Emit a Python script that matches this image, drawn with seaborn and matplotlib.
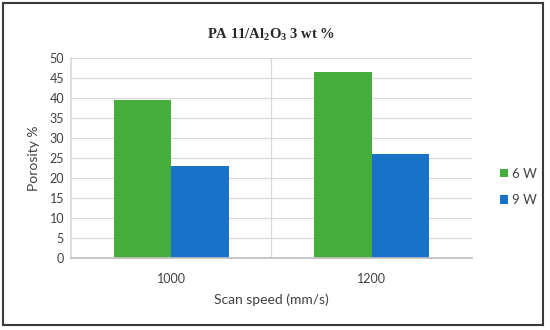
import pandas as pd
import matplotlib.pyplot as plt
import seaborn as sns
from matplotlib.patches import Rectangle
from matplotlib.ticker import FixedLocator, MultipleLocator

# data
speeds = ['1000', '1200']
power = ['6 W', '9 W']
porosity_6w = [39.5, 46.6]
porosity_9w = [23.1, 26.1]

df = pd.DataFrame({
    'speed': speeds * 2,
    'power': [power[0]] * 2 + [power[1]] * 2,
    'porosity': porosity_6w + porosity_9w,
})

sns.set_theme(style='white')
plt.rcParams['font.family'] = ['Lato', 'DejaVu Sans']
plt.rcParams['mathtext.fontset'] = 'custom'
plt.rcParams['mathtext.bf'] = 'Liberation Serif:bold'
plt.rcParams['mathtext.rm'] = 'Liberation Serif:bold'

fig = plt.figure(figsize=(5.5, 3.3), dpi=100)
ax = fig.add_axes([0.129, 0.218, 0.729, 0.606])

sns.barplot(data=df, x='speed', y='porosity', hue='power', order=speeds,
            hue_order=power, palette=['#44AD3C', '#1873C8'], width=0.575,
            saturation=1, linewidth=0, edgecolor='none', ax=ax, legend=True)

ax.set_ylim(0, 50)
ax.set_xlim(-0.5, 1.5)
ax.yaxis.set_major_locator(MultipleLocator(5))
ax.xaxis.set_minor_locator(FixedLocator([0.5]))
ax.grid(axis='y', color='#d9d9d9', linewidth=0.9)
ax.grid(axis='x', which='minor', color='#d9d9d9', linewidth=0.9)
ax.set_axisbelow(True)
for s in ['top', 'right']:
    ax.spines[s].set_visible(False)
ax.spines['left'].set_color('#d9d9d9')
ax.spines['bottom'].set_color('#bfbfbf')
ax.tick_params(axis='both', length=0, labelsize=9, colors='#404040')
ax.tick_params(axis='x', pad=11)
ax.tick_params(axis='y', pad=5)

ax.set_xlabel('Scan speed (mm/s)', fontsize=10, color='#404040', labelpad=6)
ax.set_ylabel('Porosity %', fontsize=10, color='#404040', labelpad=7)

ax.set_title(r'PA 11/Al$\mathbf{_2}$O$\mathbf{_3}$ 3 wt %', fontsize=10.5,
             fontweight='bold', family='Liberation Serif', pad=14)

leg = ax.legend(loc='center left', bbox_to_anchor=(1.04, 0.355), frameon=False,
                fontsize=9.5, handlelength=0.6, handleheight=0.6,
                handletextpad=0.3, labelspacing=1.1)
for t in leg.get_texts():
    t.set_color('#404040')

fig.patches.append(Rectangle((0.006, 0.015), 0.982, 0.975,
                             transform=fig.transFigure, fill=False,
                             edgecolor='#3a3a3a', linewidth=1.5))

fig.savefig('out.png', dpi=100)
